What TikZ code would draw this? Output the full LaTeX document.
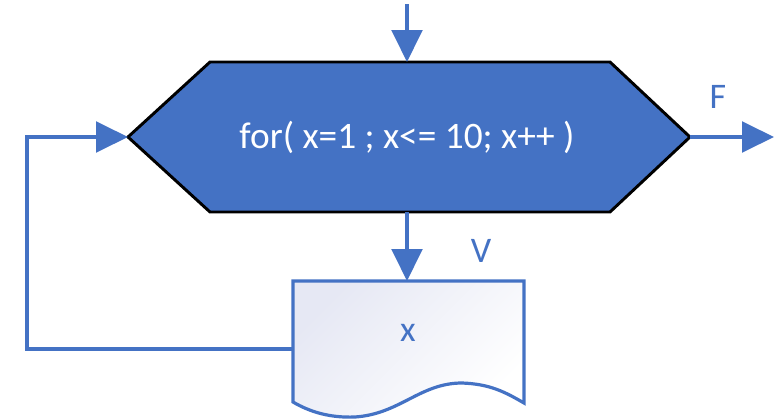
\documentclass[tikz,border=0pt]{standalone}
\usepackage{fontspec}
\setmainfont{Carlito}
\usetikzlibrary{arrows.meta}
\definecolor{flowblue}{HTML}{4472C4}
\definecolor{docfill}{HTML}{E6E8F4}
\tikzset{
    flow/.style={draw=flowblue, line width=2.4pt,
        -{Triangle[length=24pt,width=23pt]}},
    lbl/.style={text=flowblue, font=\fontsize{27}{32}\selectfont}
}

\begin{document}
\begin{tikzpicture}[x=0.75pt,y=-0.75pt]
    \useasboundingbox (0,0) rectangle (774,418);
    \coordinate (hexL) at (128,137);
    \coordinate (hexR) at (690,137);
    \coordinate (hexT) at (407,62);
    \coordinate (hexB) at (407,212);
    \coordinate (docT) at (407,281);
    \coordinate (docL) at (293,349);
    \coordinate (in) at (407,4);
    \coordinate (out) at (774,137);
    \filldraw[fill=flowblue, draw=black, line width=2.2pt, line join=miter]
        (hexL) -- (210,62) -- (610,62) -- (hexR)
        -- (610,212) -- (210,212) -- cycle;
    \node[text=white, font=\fontsize{28}{34}\selectfont] (cond) at (407,137)
        {for( x=1 ; x<= 10; x++ )};
    \path[draw=flowblue, line width=2.4pt, top color=docfill, bottom color=white,
        shading angle=45]
        (293,281) -- (524,281) -- (524,403)
        .. controls (505,392) and (490,384) .. (462,383)
        .. controls (420,383) and (400,414) .. (355,417)
        .. controls (330,418) and (310,412) .. (293,402) -- cycle;
    \node[lbl] (body) at (408,333) {x};
    \node[lbl] (false) at (718,97) {F};
    \node[lbl] (true) at (481,251) {V};
    \draw[flow] (in) -- (hexT);
    \draw[flow] (hexR) -- (out);
    \draw[flow] (hexB) -- (docT);
    \draw[flow] (docL) -- ++(-266,0) |- (hexL);
\end{tikzpicture}
\end{document}
